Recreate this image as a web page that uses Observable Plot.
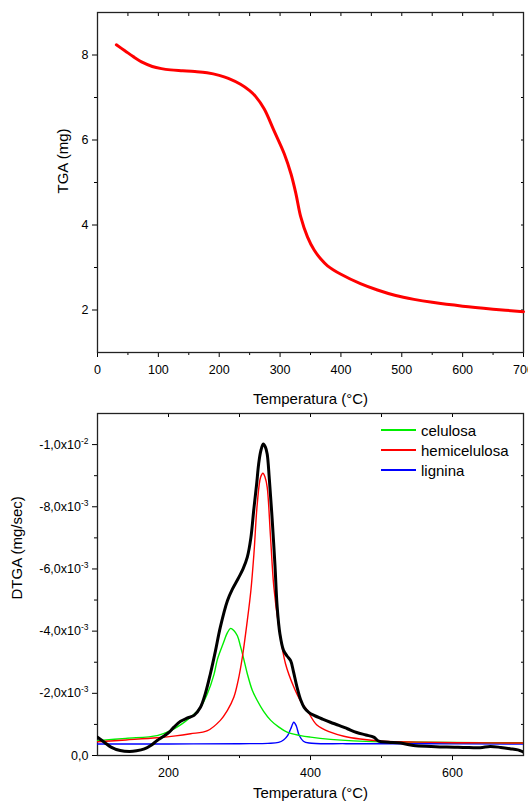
<!DOCTYPE html>
<html>
<head>
<meta charset="utf-8">
<script src="https://cdn.jsdelivr.net/npm/d3@7"></script>
<script src="https://cdn.jsdelivr.net/npm/@observablehq/plot@0.6"></script>
<style>
  html, body { margin: 0; padding: 0; background: #fff; }
  #wrap { position: relative; width: 528px; height: 807px; overflow: hidden; font-family: "Liberation Sans", Arial, sans-serif; }
  #top, #bot { position: absolute; left: 0; }
  #top { top: 0; }
  #bot { top: 412px; }
  #legend { position: absolute; left: 381px; top: 420px; font-size: 15px; color: #000; }
  #legend .row { display: flex; align-items: center; height: 20px; }
  #legend .sw { width: 35px; height: 2px; margin-right: 5px; }
</style>
</head>
<body>
<div id="wrap">
  <div id="top"></div>
  <div id="bot"></div>
  <div id="legend"></div>
</div>
<script>
// ---------- TGA (top panel) ----------
const tgaTemp = [31, 45, 60, 75, 90, 105, 120, 140, 160, 180, 200, 215, 235, 250, 260, 274, 290, 307, 318, 326, 334, 345, 356, 367, 378, 400, 432, 460, 490, 520, 550, 600, 650, 700];
const tgaMass = [8.24, 8.10, 7.95, 7.82, 7.73, 7.68, 7.65, 7.63, 7.61, 7.58, 7.52, 7.45, 7.31, 7.16, 7.02, 6.73, 6.22, 5.67, 5.20, 4.74, 4.19, 3.72, 3.41, 3.20, 3.04, 2.84, 2.62, 2.47, 2.34, 2.25, 2.18, 2.09, 2.02, 1.96];
const tgaXTicks = [0, 100, 200, 300, 400, 500, 600, 700];
const tgaXMinor = [50, 150, 250, 350, 450, 550, 650];
const tgaYTicks = [2, 4, 6, 8];
const tgaYMinor = [3, 5, 7];

// ---------- DTGA (bottom panel), magnitudes in 10^-3 mg/sec (values are negative) ----------
const dtgaTemp = [100, 110, 119, 132, 145, 155, 166, 175, 184, 192, 201, 208, 217, 226, 236, 245, 252, 259, 266, 273, 283, 290, 299, 305, 311, 316, 320, 324, 327, 330, 333.5, 336.5, 339, 342, 346, 350, 353, 357, 362, 367, 372, 376, 381, 386, 391, 398, 405, 417, 428, 440, 452, 465, 478, 489, 496, 510, 527, 545, 570, 592, 615, 639, 653, 668, 681, 692, 700];
const dtgaTotal = [0.59, 0.42, 0.27, 0.16, 0.13, 0.15, 0.21, 0.32, 0.48, 0.60, 0.75, 0.92, 1.10, 1.20, 1.29, 1.55, 2.00, 2.63, 3.35, 4.13, 4.98, 5.35, 5.73, 6.00, 6.38, 7.00, 7.88, 8.70, 9.38, 9.80, 10.02, 9.92, 9.70, 8.90, 7.60, 6.10, 4.80, 3.90, 3.38, 3.20, 3.05, 2.70, 2.20, 1.80, 1.55, 1.38, 1.29, 1.17, 1.07, 0.97, 0.86, 0.74, 0.66, 0.59, 0.46, 0.43, 0.40, 0.32, 0.29, 0.27, 0.26, 0.25, 0.29, 0.26, 0.22, 0.18, 0.11];

const celTemp = [100, 140, 184, 203, 218, 231, 245, 255, 264, 269, 277, 283, 287.5, 292, 297, 301.5, 306, 311, 318, 325, 334, 344, 355, 367, 386, 400, 428, 460, 500, 600, 700];
const celVal  = [0.48, 0.55, 0.64, 0.80, 1.00, 1.23, 1.55, 2.00, 2.60, 3.10, 3.60, 3.95, 4.09, 4.02, 3.85, 3.50, 3.10, 2.63, 2.10, 1.77, 1.42, 1.13, 0.92, 0.75, 0.64, 0.59, 0.52, 0.47, 0.44, 0.42, 0.41];

const hemTemp = [100, 140, 184, 210, 231, 255, 273, 283, 292, 298, 304, 311, 316, 320.3, 325, 329.7, 333, 336, 339, 343.7, 348.4, 355.4, 364.8, 376.5, 386, 395.4, 409, 428, 447, 470, 503, 550, 620, 700];
const hemVal  = [0.44, 0.50, 0.57, 0.63, 0.70, 0.80, 1.13, 1.45, 1.87, 2.40, 3.16, 4.34, 5.30, 6.48, 8.09, 8.95, 9.08, 8.95, 8.63, 7.02, 5.41, 4.13, 2.95, 2.20, 1.75, 1.45, 0.98, 0.75, 0.62, 0.53, 0.46, 0.43, 0.41, 0.40];

const ligTemp = [100, 200, 300, 340, 355, 362, 368, 372, 376.5, 380, 384, 390, 398, 450, 550, 700];
const ligVal  = [0.37, 0.37, 0.38, 0.39, 0.42, 0.50, 0.65, 0.85, 1.07, 0.95, 0.65, 0.46, 0.40, 0.38, 0.38, 0.37];

const dtgaXTicks = [200, 400, 600];
const dtgaXMinor = [300, 500];
const dtgaYTicks = [0, 2, 4, 6, 8, 10];
const dtgaYBase  = ["0,0", "-2,0x10", "-4,0x10", "-6,0x10", "-8,0x10", "-1,0x10"];
const dtgaYExp   = ["", "-3", "-3", "-3", "-3", "-2"];
const dtgaYMinor = [1, 3, 5, 7, 9];

const legendNames  = ["celulosa", "hemicelulosa", "lignina"];
const legendColors = ["#00ee00", "#ff0000", "#0000ff"];

const FONT = "Liberation Sans, Arial, sans-serif";
const blank = () => "";

const topPlot = Plot.plot({
  width: 528, height: 412,
  marginTop: 12, marginBottom: 60, marginLeft: 97, marginRight: 5,
  style: { fontFamily: FONT, fontSize: "12.5px", color: "#000", background: "transparent", overflow: "visible" },
  x: { domain: [0, 700] },
  y: { domain: [1, 9] },
  marks: [
    Plot.axisX({ ticks: tgaXTicks, tickSize: 5, tickPadding: 8, label: null }),
    Plot.axisX({ ticks: tgaXMinor, tickSize: 3, tickFormat: blank, label: null }),
    Plot.axisX({ anchor: "top", ticks: tgaXTicks.concat(tgaXMinor), tickSize: -3, tickFormat: blank, label: null }),
    Plot.axisY({ ticks: tgaYTicks, tickSize: 5, tickPadding: 4, label: null }),
    Plot.axisY({ ticks: tgaYMinor, tickSize: 3, tickFormat: blank, label: null }),
    Plot.axisY({ anchor: "right", ticks: tgaYTicks.concat(tgaYMinor), tickSize: -3, tickFormat: blank, label: null }),
    Plot.frame({ stroke: "#222", strokeWidth: 1.3 }),
    Plot.line(tgaTemp, { x: tgaTemp, y: tgaMass, stroke: "#ff0000", strokeWidth: 3, curve: "catmull-rom" }),
    Plot.text(["Temperatura (°C)"], { text: d => d, frameAnchor: "bottom", dy: 51, fontSize: 15 }),
    Plot.text(["TGA (mg)"], { text: d => d, frameAnchor: "left", rotate: -90, dx: -34, dy: 11, fontSize: 15 })
  ]
});
document.getElementById("top").appendChild(topPlot);

const botPlot = Plot.plot({
  width: 528, height: 395,
  marginTop: 1, marginBottom: 52, marginLeft: 97, marginRight: 5,
  style: { fontFamily: FONT, fontSize: "12.5px", color: "#000", background: "transparent", overflow: "visible" },
  x: { domain: [100, 700] },
  y: { domain: [0, 11] },
  marks: [
    Plot.axisX({ ticks: dtgaXTicks, tickSize: 5, tickPadding: 8, label: null }),
    Plot.axisX({ ticks: dtgaXMinor, tickSize: 3, tickFormat: blank, label: null }),
    Plot.axisX({ anchor: "top", ticks: dtgaXTicks.concat(dtgaXMinor), tickSize: -3, tickFormat: blank, label: null }),
    Plot.axisY({ ticks: dtgaYTicks, tickSize: 5, tickPadding: 4, label: null,
      tickFormat: d => { const i = dtgaYTicks.indexOf(d); return dtgaYExp[i] ? dtgaYBase[i] + "^" + dtgaYExp[i] : dtgaYBase[i]; } }),
    Plot.axisY({ ticks: dtgaYMinor, tickSize: 3, tickFormat: blank, label: null }),
    Plot.axisY({ anchor: "right", ticks: dtgaYTicks.slice(1).concat(dtgaYMinor), tickSize: -3, tickFormat: blank, label: null }),
    Plot.frame({ stroke: "#222", strokeWidth: 1.3 }),
    Plot.line(ligTemp, { x: ligTemp, y: ligVal, stroke: legendColors[2], strokeWidth: 1.4, curve: "catmull-rom", clip: true }),
    Plot.line(celTemp, { x: celTemp, y: celVal, stroke: legendColors[0], strokeWidth: 1.4, curve: "catmull-rom", clip: true }),
    Plot.line(hemTemp, { x: hemTemp, y: hemVal, stroke: legendColors[1], strokeWidth: 1.4, curve: "catmull-rom", clip: true }),
    Plot.line(dtgaTemp, { x: dtgaTemp, y: dtgaTotal, stroke: "#000", strokeWidth: 3, curve: "catmull-rom", clip: true }),
    Plot.text(["Temperatura (°C)"], { text: d => d, frameAnchor: "bottom", dy: 42, fontSize: 15 }),
    Plot.text(["DTGA (mg/sec)"], { text: d => d, frameAnchor: "left", rotate: -90, dx: -80, dy: 15, fontSize: 15 })
  ]
});
// superscript exponents on the DTGA tick labels
d3.select(botPlot).selectAll("text").each(function () {
  const t = this.textContent;
  if (t.includes("^")) {
    const [base, exp] = t.split("^");
    const sel = d3.select(this);
    sel.text(base);
    sel.append("tspan").attr("dy", "-5").attr("font-size", "8.5px").text(exp);
  }
});
document.getElementById("bot").appendChild(botPlot);

// legend
const leg = d3.select("#legend");
legendNames.forEach((n, i) => {
  const row = leg.append("div").attr("class", "row");
  row.append("span").attr("class", "sw").style("background", legendColors[i]);
  row.append("span").text(n);
});
</script>
</body>
</html>
